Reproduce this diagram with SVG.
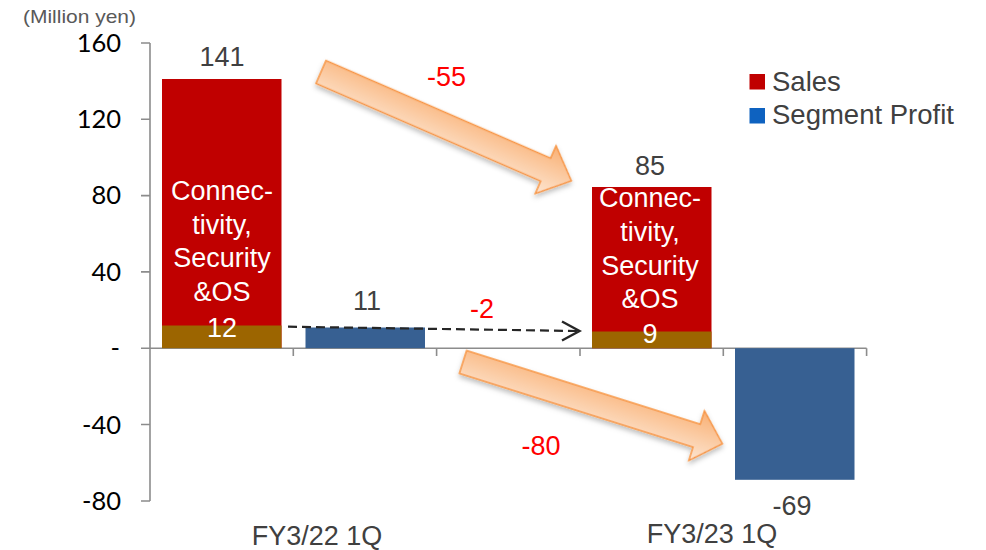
<svg xmlns="http://www.w3.org/2000/svg" width="986" height="550" viewBox="0 0 986 550">
<defs>
<style>
.tick{font-family:Lato,"Liberation Sans",sans-serif;font-size:25.5px;fill:#000;text-anchor:end}
.val{font-family:"Liberation Sans",Arial,sans-serif;font-size:27px;fill:#404040;text-anchor:middle}
.inb{font-family:"Liberation Sans",Arial,sans-serif;font-size:27px;fill:#ffffff;text-anchor:middle}
.delta{font-family:"Liberation Sans",Arial,sans-serif;font-size:27px;fill:#ff0000;text-anchor:middle}
.leg{font-family:"Liberation Sans",Arial,sans-serif;font-size:27.5px;fill:#404040}
.axis{stroke:#8c8c8c;stroke-width:1.6;fill:none}
.red{fill:#c00000}
.brown{fill:#9c6500}
.blue{fill:#376092}
.bigarrow{fill:url(#ag);stroke:#f79646;stroke-width:1.5;stroke-linejoin:miter;filter:url(#sh)}
</style>
<linearGradient id="ag" x1="0" y1="0" x2="0" y2="1">
<stop offset="0" stop-color="#f9b074"/>
<stop offset="1" stop-color="#fde6d2"/>
</linearGradient>
<filter id="sh" x="-20%" y="-50%" width="140%" height="200%">
<feDropShadow dx="1" dy="3" stdDeviation="2.5" flood-color="#000" flood-opacity="0.25"/>
</filter>
</defs>
<rect width="986" height="550" fill="#ffffff"/>

<g id="axes">
<text x="23" y="23" font-family="Liberation Sans,Arial,sans-serif" font-size="19" fill="#595959" textLength="113" lengthAdjust="spacingAndGlyphs">(Million yen)</text>
<path class="axis" d="M150 43V501M141 43H150M141 119.3H150M141 195.6H150M141 271.9H150M141 348.2H150M141 424.5H150M141 501H150"/>
<path class="axis" d="M150 348.2H866.6M293.3 348.2V356M436.6 348.2V356M580 348.2V356M723.3 348.2V356M866.6 348.2V356"/>
<text class="tick" x="121" y="51.5">160</text>
<text class="tick" x="121" y="128">120</text>
<text class="tick" x="121" y="204">80</text>
<text class="tick" x="121" y="280.5">40</text>
<text class="tick" x="120" y="357">-</text>
<text class="tick" x="121" y="433.5">-40</text>
<text class="tick" x="121" y="509.5">-80</text>
<text class="val" x="317" y="545">FY3/22 1Q</text>
<text class="val" x="712" y="543">FY3/23 1Q</text>
</g>

<g id="bar-sales-fy22">
<rect class="red" x="162" y="79" width="119.5" height="269"/>
<rect class="brown" x="162" y="325.5" width="119.5" height="22.7"/>
<text class="val" x="222" y="66">141</text>
<text class="inb" x="222" y="200">Connec-</text>
<text class="inb" x="222" y="234">tivity,</text>
<text class="inb" x="222" y="267">Security</text>
<text class="inb" x="222" y="301">&amp;OS</text>
<text class="inb" x="222" y="337">12</text>
</g>

<g id="bar-profit-fy22">
<rect class="blue" x="305.5" y="327.5" width="119.5" height="20.7"/>
<text class="val" x="367" y="310">11</text>
</g>

<g id="bar-sales-fy23">
<rect class="red" x="592" y="187" width="119.5" height="161.2"/>
<rect class="brown" x="592" y="331.5" width="119.5" height="16.7"/>
<text class="val" x="650" y="175">85</text>
<text class="inb" x="650" y="207">Connec-</text>
<text class="inb" x="650" y="241">tivity,</text>
<text class="inb" x="650" y="275">Security</text>
<text class="inb" x="650" y="308">&amp;OS</text>
<text class="inb" x="650" y="343">9</text>
</g>

<g id="bar-profit-fy23">
<rect class="blue" x="735" y="348.2" width="119.5" height="131.6"/>
<text class="val" x="792" y="515">-69</text>
</g>

<g id="legend">
<rect x="749.5" y="74" width="15.5" height="15.5" fill="#c00000"/>
<text class="leg" x="772" y="91">Sales</text>
<rect x="749.5" y="108" width="15.5" height="15.5" fill="#0e62c0"/>
<text class="leg" x="772" y="124">Segment Profit</text>
</g>

<g id="connectors">
<polygon class="bigarrow" transform="translate(321,72) rotate(23.5)" points="0,-12.5 245,-12.5 245,-26 273,0 245,26 245,12.5 0,12.5"/>
<polygon class="bigarrow" transform="translate(463,362) rotate(17.5)" points="0,-12 245,-12 245,-26 272,0 245,26 245,12 0,12"/>
<path d="M288 326.7L578 331" stroke="#262626" stroke-width="2.2" stroke-dasharray="9 5" fill="none"/>
<path d="M562 321.5L579.5 331L562 340.5" stroke="#262626" stroke-width="2.4" fill="none" stroke-linejoin="miter"/>
<text class="delta" x="446.5" y="86">-55</text>
<text class="delta" x="482" y="318">-2</text>
<text class="delta" x="541" y="455">-80</text>
</g>
</svg>
